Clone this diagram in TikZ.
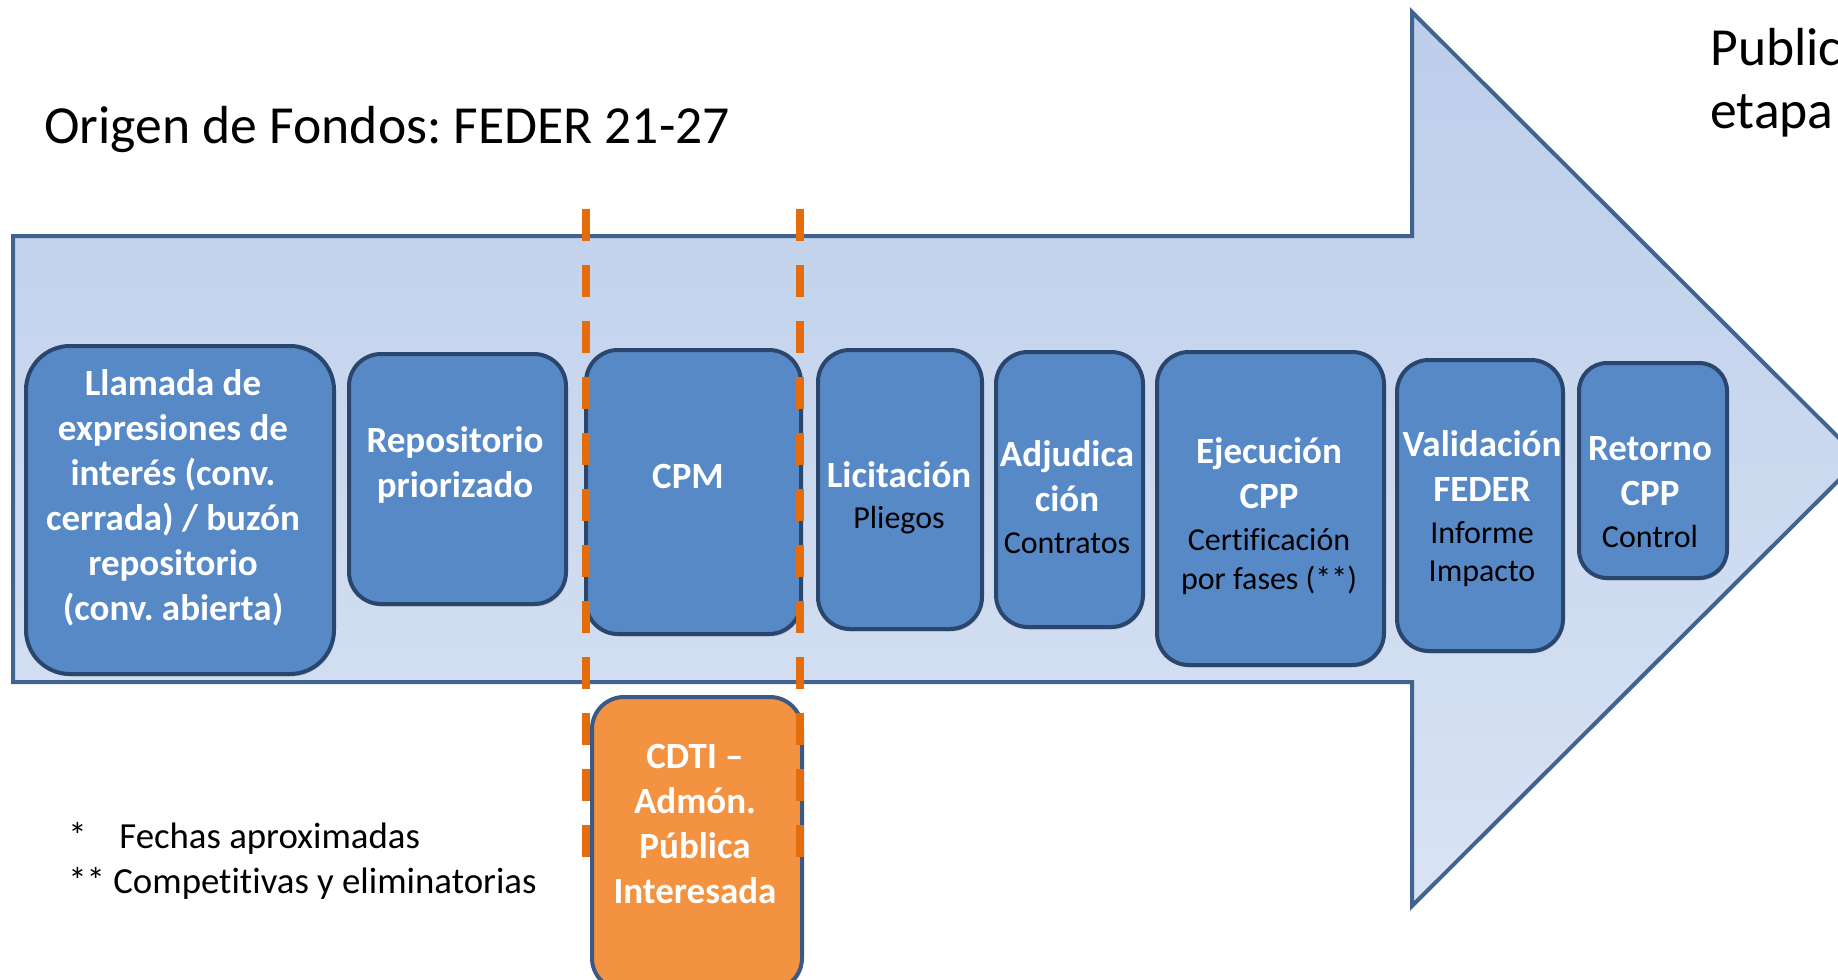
\documentclass[tikz,border=0pt]{standalone}
\usepackage{fontspec}
\setmainfont{Carlito}[Ligatures=NoCommon]
\frenchspacing
\usetikzlibrary{shadows}
\definecolor{flowtop}{HTML}{BCCEEB}
\definecolor{flowbottom}{HTML}{D9E3F3}
\definecolor{flowline}{HTML}{41638F}
\definecolor{stagefill}{HTML}{5789C7}
\definecolor{stageline}{HTML}{2A466C}
\definecolor{cdtifill}{HTML}{F39241}
\definecolor{cdtiline}{HTML}{3A5A85}
\definecolor{cutorange}{HTML}{E46C0A}
\newcommand{\stagesub}[1]{{\mdseries\color{black}\fontsize{16}{19.4}\selectfont #1}}
\tikzset{
  stage/.style={draw=stageline, line width=2pt, fill=stagefill, rounded corners=16pt,
    inner sep=0pt, drop shadow={shadow xshift=0.6pt, shadow yshift=-1.2pt, opacity=0.45}},
  stagetext/.style={text=white, align=center, inner sep=0pt,
    font=\bfseries\fontsize{18.5}{22.5}\selectfont},
  bigtext/.style={anchor=base west, inner sep=0pt, font=\fontsize{26.8}{31.5}\selectfont},
  notetext/.style={anchor=base west, inner sep=0pt, font=\fontsize{18.4}{22.5}\selectfont},
  cutline/.style={draw=cutorange, line width=4pt, dash pattern=on 16pt off 12pt},
}
\begin{document}
\begin{tikzpicture}[x=0.5pt, y=-0.5pt]
  \useasboundingbox (0,0) rectangle (1838,980);
  % Flow arrow in the background
  \draw[draw=flowline, line width=2pt, top color=flowtop, bottom color=flowbottom]
    (13,236) -- (1412,236) -- (1412,12) -- (1860,459) -- (1412,906)
    -- (1412,682) -- (13,682) -- cycle;
  % Headings
  \node[bigtext] (origen) at (44,143) {Origen de Fondos: FEDER 21-27};
  \node[bigtext] (public) at (1710,65) {Public};
  \node[bigtext] (etapa) at (1710,128) {etapa};
  % Stages along the arrow
  \node[stage, minimum width=154pt, minimum height=164pt, rounded corners=22pt] (llamada) at (180,510) {};
  \node[stage, minimum width=108.5pt, minimum height=125pt] (repositorio) at (457.5,479) {};
  \node[stage, minimum width=107.5pt, minimum height=142pt] (cpm) at (693.5,492) {};
  \node[stage, minimum width=82pt, minimum height=139.5pt] (licitacion) at (900,489.5) {};
  \node[stage, minimum width=73.5pt, minimum height=137.5pt] (adjudicacion) at (1069.5,489.5) {};
  \node[stage, minimum width=113.5pt, minimum height=156.5pt] (ejecucion) at (1270.5,508.5) {};
  \node[stage, minimum width=83pt, minimum height=145.5pt] (validacion) at (1480,505.5) {};
  \node[stage, minimum width=74pt, minimum height=107.5pt, rounded corners=14pt] (retorno) at (1653,470.5) {};
  % Public administration box below CPM
  \node[stage, fill=cdtifill, draw=cdtiline, minimum width=105pt, minimum height=146.5pt] (cdti) at (697,843.5) {};
  % Stage texts
  \node[stagetext] (llamada-txt) at (173,498)
    {Llamada de\\expresiones de\\interés (conv.\\cerrada) / buzón\\repositorio\\(conv. abierta)};
  \node[stagetext] (repositorio-txt) at (455,465) {Repositorio\\priorizado};
  \node[stagetext] (cpm-txt) at (688,476) {CPM};
  \node[stagetext] (licitacion-txt) at (899,498) {Licitación\\[-2pt]\stagesub{Pliegos}};
  \node[stagetext] (adjudicacion-txt) at (1067,497) {Adjudica\\ción\\[-1.5pt]\stagesub{Contratos}};
  \node[stagetext] (ejecucion-txt) at (1269,516)
    {Ejecución\\CPP\\[-1.5pt]\stagesub{Certificación}\\[-3pt]\stagesub{por fases (**)}};
  \node[stagetext] (validacion-txt) at (1482,509)
    {Validación\\FEDER\\[-1.5pt]\stagesub{Informe}\\[-3.5pt]\stagesub{Impacto}};
  \node[stagetext] (retorno-txt) at (1650,492) {Retorno\\CPP\\[-1.5pt]\stagesub{Control}};
  \node[stagetext] (cdti-txt) at (695,824) {CDTI –\\Admón.\\Pública\\Interesada};
  % Dashed cut lines around CPM
  \coordinate (cut-l-top) at (586,209);
  \coordinate (cut-l-bot) at (586,858);
  \coordinate (cut-r-top) at (800,209);
  \coordinate (cut-r-bot) at (800,858);
  \draw[cutline] (cut-l-top) -- (cut-l-bot);
  \draw[cutline] (cut-r-top) -- (cut-r-bot);
  % Notes
  \node[notetext] (nota-fechas) at (68,848) {\makebox[25.5pt][l]{*}Fechas aproximadas};
  \node[notetext] (nota-fases) at (68,893) {** Competitivas y eliminatorias};
\end{tikzpicture}
\end{document}
